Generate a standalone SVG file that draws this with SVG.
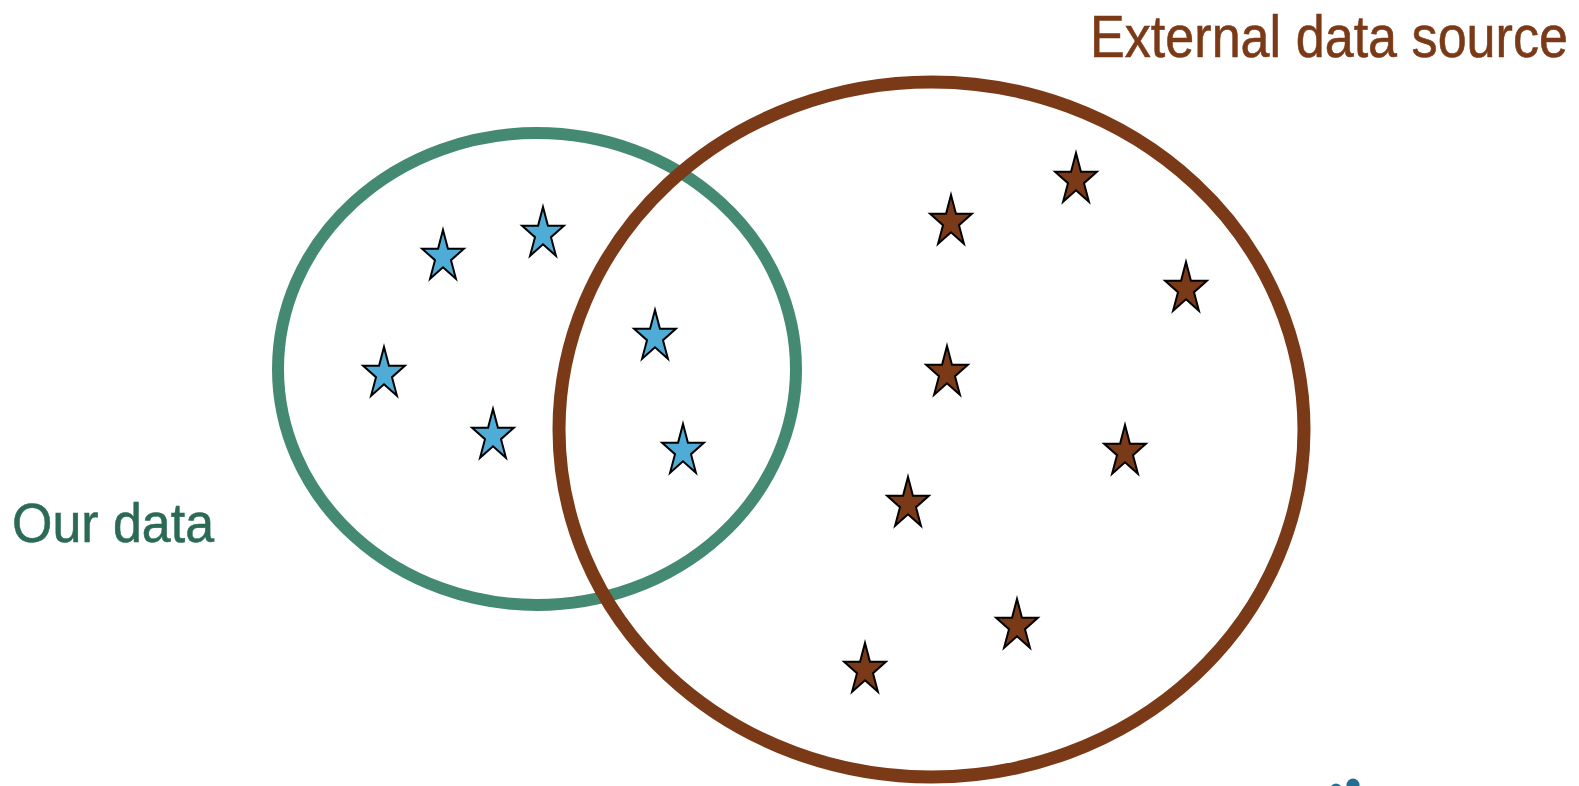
<svg xmlns="http://www.w3.org/2000/svg" xmlns:xlink="http://www.w3.org/1999/xlink" width="1579" height="786" viewBox="0 0 1579 786">
<style>
.ring-ours{fill:none;stroke:#448A72;stroke-width:12}
.ring-ext{fill:none;stroke:#7B3A17;stroke-width:13}
.blue{fill:#4FACD6;stroke:#000;stroke-width:2;stroke-linejoin:miter}
.brown{fill:#7B3A17;stroke:#000;stroke-width:2;stroke-linejoin:miter}
.lbl{font-family:"Liberation Sans",Arial,sans-serif;stroke-width:0.6}
</style>
<defs>
<path id="star" d="M0,-27 L4.94,-8.34 L20.92,-8.34 L7.99,3.19 L12.93,21.84 L0,10.31 L-12.93,21.84 L-7.99,3.19 L-20.92,-8.34 L-4.94,-8.34 Z"/>
</defs>
<rect width="1579" height="786" fill="#fff"/>
<g id="our-data">
<ellipse class="ring-ours" cx="537" cy="369" rx="259" ry="236"/>
<text class="lbl" x="12" y="542" font-size="56" fill="#2B6A55" stroke="#2B6A55" textLength="202" lengthAdjust="spacingAndGlyphs">Our data</text>
</g>
<g id="external-data">
<ellipse class="ring-ext" cx="931.5" cy="429.5" rx="372.5" ry="347.5"/>
<text class="lbl" x="1090" y="57" font-size="60" fill="#7B3A17" stroke="#7B3A17" textLength="478" lengthAdjust="spacingAndGlyphs">External data source</text>
</g>
<g id="blue-stars">
<use xlink:href="#star" class="blue" x="443" y="257"/>
<use xlink:href="#star" class="blue" x="543" y="234"/>
<use xlink:href="#star" class="blue" x="384" y="374"/>
<use xlink:href="#star" class="blue" x="493" y="436"/>
<use xlink:href="#star" class="blue" x="655" y="337"/>
<use xlink:href="#star" class="blue" x="683" y="451"/>
</g>
<g id="brown-stars">
<use xlink:href="#star" class="brown" x="951" y="222"/>
<use xlink:href="#star" class="brown" x="1076" y="180"/>
<use xlink:href="#star" class="brown" x="1186" y="289"/>
<use xlink:href="#star" class="brown" x="947" y="373"/>
<use xlink:href="#star" class="brown" x="1125" y="452"/>
<use xlink:href="#star" class="brown" x="908" y="504"/>
<use xlink:href="#star" class="brown" x="1017" y="626"/>
<use xlink:href="#star" class="brown" x="865" y="670"/>
</g>
<g id="logo-fragment" fill="#246E92">
<circle cx="1336" cy="789" r="5.5"/>
<circle cx="1353" cy="785" r="6.5"/>
</g>
<g id="connectors"/>
</svg>
